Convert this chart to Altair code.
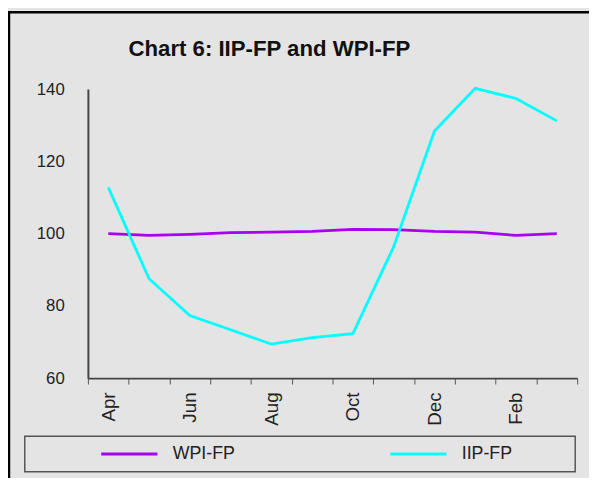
import altair as alt
import pandas as pd

months = ["Apr", "May", "Jun", "Jul", "Aug", "Sep", "Oct", "Nov", "Dec", "Jan", "Feb", "Mar"]
wpi_fp = [100.0, 99.5, 99.8, 100.3, 100.4, 100.6, 101.2, 101.1, 100.6, 100.4, 99.5, 100.0]
iip_fp = [112.8, 87.5, 77.3, 73.4, 69.4, 71.2, 72.3, 96.4, 128.4, 140.2, 137.4, 131.2]
series_names = ["WPI-FP", "IIP-FP"]
series_colors = ["#a800f0", "#00ffff"]
y_ticks = [60, 80, 100, 120, 140]
shown_labels = ["Apr", "Jun", "Aug", "Oct", "Dec", "Feb"]
chart_title = "Chart 6: IIP-FP and WPI-FP"

rows = []
for m, w, i in zip(months, wpi_fp, iip_fp):
    rows.append({"month": m, "series": "WPI-FP", "value": w})
    rows.append({"month": m, "series": "IIP-FP", "value": i})
df = pd.DataFrame(rows)

W, H = 496, 293
FONT = "Liberation Sans"

label_list = "[" + ",".join("'" + s + "'" for s in shown_labels) + "]"

lines = alt.Chart(df).mark_line(strokeWidth=2.8).encode(
    x=alt.X("month:O", sort=months, bandPosition=0.5,
            scale=alt.Scale(type="band", paddingInner=0, paddingOuter=0),
            axis=alt.Axis(title=None, tickBand="extent", labelAngle=-90,
                          labelExpr=f"indexof({label_list}, datum.label) >= 0 ? datum.label : ''",
                          labelFontSize=19, labelFont=FONT, labelColor="#222",
                          labelPadding=8, tickSize=6, tickColor="#555",
                          domainColor="#444", domainWidth=2)),
    y=alt.Y("value:Q", scale=alt.Scale(domain=[60, 140], nice=False, zero=False),
            axis=alt.Axis(title=None, values=y_ticks, ticks=False, grid=False,
                          labelFontSize=17, labelFont=FONT, labelColor="#222",
                          labelPadding=24, domainColor="#444", domainWidth=2)),
    color=alt.Color("series:N",
                    scale=alt.Scale(domain=series_names, range=series_colors),
                    sort=series_names,
                    legend=alt.Legend(title=None, orient="none", legendX=12, legendY=340,
                                      direction="horizontal", columns=2,
                                      symbolType="stroke", symbolSize=3249,
                                      symbolStrokeWidth=3, labelOffset=14,
                                      columnPadding=151, labelFontSize=18,
                                      labelFont=FONT, labelColor="#222", padding=0)),
)

frame_src = alt.Data(values=[{"title": chart_title}])
title_text = alt.Chart(frame_src).mark_text(
    font=FONT, fontSize=22.5, fontWeight="bold", color="#111",
    align="center", baseline="alphabetic"
).encode(text="title:N", x=alt.value(184), y=alt.value(-34))
legend_box = alt.Chart(frame_src).mark_rect(fill=None, stroke="#555", strokeWidth=1.5).encode(
    x=alt.value(-64), x2=alt.value(494), y=alt.value(352), y2=alt.value(388)
)
top_border = alt.Chart(frame_src).mark_rule(color="black", strokeWidth=2.5).encode(
    x=alt.value(-81), x2=alt.value(510), y=alt.value(-78)
)
left_border = alt.Chart(frame_src).mark_rule(color="black", strokeWidth=2.5).encode(
    x=alt.value(-80), y=alt.value(-79), y2=alt.value(400)
)

chart = alt.layer(top_border, left_border, legend_box, title_text, lines).properties(
    width=W, height=H,
    background="#e4e4e4",
    padding={"left": 81, "top": 79, "right": 12, "bottom": 98},
    autosize=alt.AutoSizeParams(type="none"),
).configure_view(stroke=None)

chart.save("out.html", embed_options={"renderer": "svg", "actions": False})
